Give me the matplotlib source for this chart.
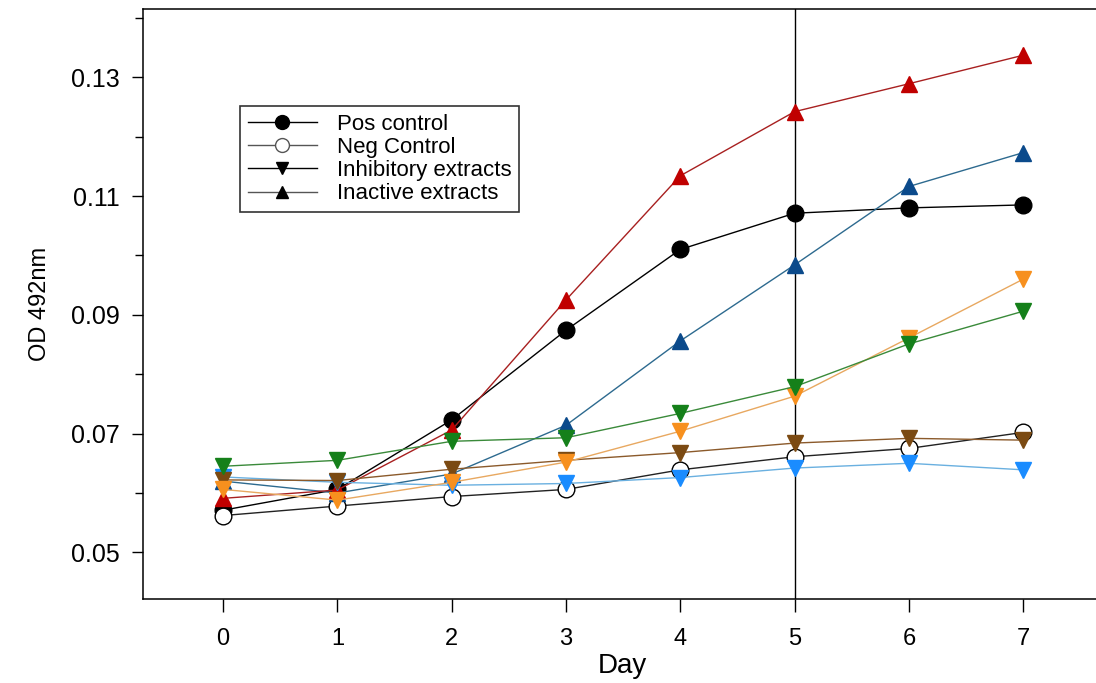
import matplotlib.pyplot as plt
from matplotlib.lines import Line2D
import numpy as np

plt.rcParams['font.family'] = ['Liberation Sans', 'DejaVu Sans']

days = [0, 1, 2, 3, 4, 5, 6, 7]

# OD readings per group
pos_control = [0.0571, 0.0606, 0.0723, 0.0874, 0.1010, 0.1071, 0.1080, 0.1085]
neg_control = [0.0562, 0.0578, 0.0594, 0.0606, 0.0639, 0.0661, 0.0675, 0.0702]

# inactive extracts (up triangles)
inactive_red = [0.0591, 0.0605, 0.0706, 0.0925, 0.1134, 0.1242, 0.1289, 0.1337]
inactive_blue = [0.0620, 0.0600, 0.0632, 0.0714, 0.0856, 0.0984, 0.1116, 0.1173]

# inhibitory extracts (down triangles)
inhib_green = [0.0645, 0.0655, 0.0687, 0.0693, 0.0734, 0.0779, 0.0851, 0.0906]
inhib_orange = [0.0606, 0.0588, 0.0618, 0.0652, 0.0704, 0.0763, 0.0861, 0.0960]
inhib_brown = [0.0622, 0.0621, 0.0640, 0.0655, 0.0668, 0.0684, 0.0692, 0.0689]
inhib_lightblue = [0.0627, 0.0618, 0.0613, 0.0616, 0.0626, 0.0642, 0.0650, 0.0639]

legend_labels = ['Pos control', 'Neg Control', 'Inhibitory extracts', 'Inactive extracts']

fig = plt.figure(figsize=(10.96, 6.83), dpi=100)
ax = fig.add_axes([0.1305, 0.1234, 0.874, 0.8627])

# controls
ax.plot(days, pos_control, color='black', lw=1, marker='o', ms=12,
        mfc='black', mec='black', zorder=3)
ax.plot(days, neg_control, color='#222222', lw=1, marker='o', ms=12,
        mfc='white', mec='black', mew=1, zorder=3)

# inactive extracts
ax.plot(days, inactive_blue, color='#2d6a8f', lw=1, marker='^', ms=11,
        mfc='#0b4a8b', mec='#0b4a8b', zorder=4)
ax.plot(days, inactive_red, color='#a82020', lw=1, marker='^', ms=11,
        mfc='#c00000', mec='#c00000', zorder=4)

# inhibitory extracts
ax.plot(days, inhib_lightblue, color='#6ab0e0', lw=1, marker='v', ms=11,
        mfc='#1a8cff', mec='#1a8cff', zorder=4)
ax.plot(days, inhib_brown, color='#8b5a2b', lw=1, marker='v', ms=11,
        mfc='#7b4a12', mec='#7b4a12', zorder=4)
ax.plot(days, inhib_orange, color='#e8a860', lw=1, marker='v', ms=11,
        mfc='#f7901e', mec='#f7901e', zorder=4)
ax.plot(days, inhib_green, color='#3a8a3a', lw=1, marker='v', ms=11,
        mfc='#15801a', mec='#15801a', zorder=4)

ax.axvline(5, color='black', lw=1, zorder=2)

ax.set_xlim(-0.70, 7.68)
ax.set_ylim(0.0422, 0.1414)
ax.set_xticks(days)
ax.set_yticks([0.05, 0.07, 0.09, 0.11, 0.13])
ax.set_yticks(np.arange(0.06, 0.141, 0.02), minor=True)
ax.set_yticklabels(['0.05', '0.07', '0.09', '0.11', '0.13'])
ax.tick_params(axis='y', which='major', direction='out', length=8, width=1,
               labelsize=18, pad=9)
ax.tick_params(axis='y', which='minor', direction='out', length=6, width=1)
ax.tick_params(axis='x', direction='out', length=9, width=1, labelsize=17, pad=12)

ax.spines['right'].set_visible(False)
for s in ['left', 'bottom', 'top']:
    ax.spines[s].set_linewidth(1.1)

ax.set_xlabel('Day', fontsize=20, labelpad=2)
ax.set_ylabel('OD 492nm', fontsize=17, labelpad=14)

handles = [
    Line2D([], [], color='black', lw=1, marker='o', ms=10, mfc='black', mec='black'),
    Line2D([], [], color='#555555', lw=1, marker='o', ms=10, mfc='white', mec='#555555'),
    Line2D([], [], color='black', lw=1, marker='v', ms=8, mfc='black', mec='black'),
    Line2D([], [], color='#555555', lw=1, marker='^', ms=8, mfc='black', mec='black'),
]
leg = ax.legend(handles, legend_labels, loc='upper left',
                bbox_to_anchor=(0.219, 0.845), bbox_transform=fig.transFigure,
                fontsize=16, frameon=True, fancybox=False, handlelength=3.1,
                handletextpad=0.9, borderpad=0.35, labelspacing=0.1,
                borderaxespad=0)
leg.get_frame().set_edgecolor('black')
leg.get_frame().set_linewidth(1.2)

fig.savefig('out.png', dpi=100)
